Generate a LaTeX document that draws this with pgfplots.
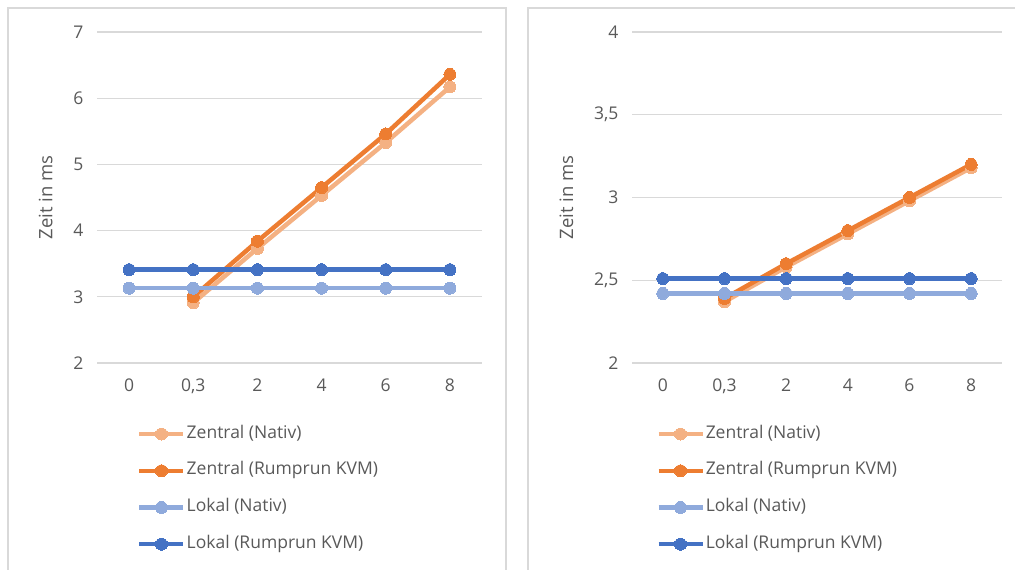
\documentclass[border=0pt]{standalone}
\usepackage{pgfplots}
\pgfplotsset{compat=1.18}
\usepackage{fontspec}
\setmainfont{Open Sans}
\definecolor{lorange}{HTML}{F4B183}
\definecolor{dorange}{HTML}{ED7D31}
\definecolor{lblue}{HTML}{8FAADC}
\definecolor{dblue}{HTML}{4472C4}
\definecolor{gridc}{HTML}{D9D9D9}
\definecolor{txt}{HTML}{595959}
\pgfplotsset{
  mystyle/.style={
    scale only axis, height=331pt,
    xmin=-0.5, xmax=5.5,
    xtick={0,1,2,3,4,5},
    xticklabels={0,{0,3},2,4,6,8},
    axis line style={draw=none},
    major tick length=0pt,
    ymajorgrids, grid style={gridc, line width=1.3pt},
    tick label style={font=\fontsize{17.5}{21}\selectfont, text=txt},
    label style={font=\fontsize{18.5}{22}\selectfont, text=txt},
    /pgf/number format/.cd, use comma, assume math mode=true,
    /pgfplots/.cd,
    xticklabel style={yshift=-12pt},
    yticklabel style={xshift=-10pt},
    ylabel={Zeit in ms},
    legend cell align=left,
    legend style={draw=none, fill=none, inner sep=0pt, row sep=20.7pt, column sep=1pt,
      font=\fontsize{17.5}{21}\selectfont, text=txt,
      nodes={inner sep=0pt, text height=12pt, text depth=4pt}},
    legend image code/.code={\draw[mark repeat=2, mark phase=2, ##1] plot coordinates {(0pt,0pt) (22pt,0pt) (44pt,0pt)};},
    every axis plot/.append style={line width=4.5pt, mark=*, mark size=6pt, mark options={line width=0pt}},
  }
}
\begin{document}
\begin{tikzpicture}
\path[use as bounding box] (0,0) rectangle (1015pt,570pt);
\draw[gridc, line width=1.2pt] (8pt,0pt) -- (8pt,562pt) -- (506pt,562pt) -- (506pt,0pt);
\draw[gridc, line width=1.2pt] (528pt,0pt) -- (528pt,562pt) -- (1016pt,562pt);
\begin{axis}[mystyle, at={(97pt,207pt)}, anchor=south west, width=385pt,
  ymin=2, ymax=7, ytick={2,3,4,5,6,7},
  ylabel style={yshift=14pt},
  legend style={at={(0.104,-0.19)}, anchor=north west}]
\addplot[lorange] coordinates {(1,2.91) (2,3.73) (3,4.53) (4,5.33) (5,6.17)};
\addlegendentry{Zentral (Nativ)}
\addplot[dorange] coordinates {(1,3.00) (2,3.84) (3,4.65) (4,5.46) (5,6.36)};
\addlegendentry{Zentral (Rumprun KVM)}
\addplot[lblue] coordinates {(0,3.13) (1,3.13) (2,3.13) (3,3.13) (4,3.13) (5,3.13)};
\addlegendentry{Lokal (Nativ)}
\addplot[dblue] coordinates {(0,3.41) (1,3.41) (2,3.41) (3,3.41) (4,3.41) (5,3.41)};
\addlegendentry{Lokal (Rumprun KVM)}
\end{axis}
\begin{axis}[mystyle, at={(632pt,207pt)}, anchor=south west, width=370pt,
  ymin=2, ymax=4, ytick={2,2.5,3,3.5,4},
  ylabel style={yshift=14pt},
  legend style={at={(0.065,-0.19)}, anchor=north west}]
\addplot[lorange] coordinates {(1,2.37) (2,2.58) (3,2.78) (4,2.98) (5,3.18)};
\addlegendentry{Zentral (Nativ)}
\addplot[dorange] coordinates {(1,2.39) (2,2.60) (3,2.80) (4,3.00) (5,3.20)};
\addlegendentry{Zentral (Rumprun KVM)}
\addplot[lblue] coordinates {(0,2.42) (1,2.42) (2,2.42) (3,2.42) (4,2.42) (5,2.42)};
\addlegendentry{Lokal (Nativ)}
\addplot[dblue] coordinates {(0,2.51) (1,2.51) (2,2.51) (3,2.51) (4,2.51) (5,2.51)};
\addlegendentry{Lokal (Rumprun KVM)}
\end{axis}
\end{tikzpicture}
\end{document}
